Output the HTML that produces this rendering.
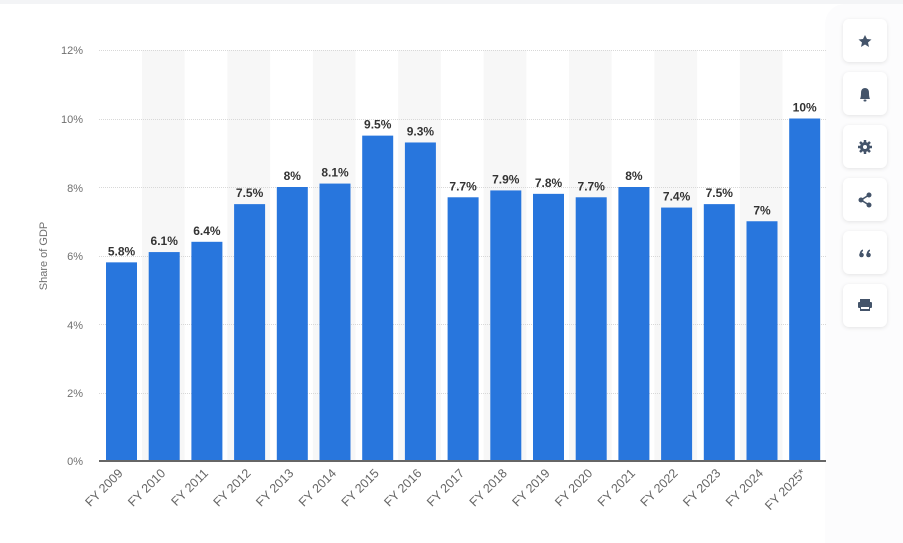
<!DOCTYPE html>
<html><head><meta charset="utf-8"><style>
html,body{margin:0;padding:0;background:#fff;}
body{width:903px;height:543px;overflow:hidden;position:relative;font-family:"Liberation Sans",sans-serif;}
.btn{position:absolute;left:843px;width:44px;height:43px;background:#fff;border-radius:6px;box-shadow:0 1px 4px rgba(0,0,0,0.10);}
</style></head><body>
<div style="position:absolute;left:0;top:0;width:903px;height:4px;background:#f3f4f6"></div>
<div style="position:absolute;left:825px;top:4px;width:78px;height:539px;background:#fcfcfd;border-radius:20px 0 0 0"></div>
<svg width="903" height="543" style="position:absolute;left:0;top:0" xmlns="http://www.w3.org/2000/svg" font-family="Liberation Sans, sans-serif">
<g fill="#f7f7f7">
<rect x="142" y="50" width="42.7" height="411"/><rect x="227.4" y="50" width="42.7" height="411"/><rect x="312.8" y="50" width="42.7" height="411"/><rect x="398.2" y="50" width="42.7" height="411"/><rect x="483.6" y="50" width="42.7" height="411"/><rect x="569" y="50" width="42.7" height="411"/><rect x="654.4" y="50" width="42.7" height="411"/><rect x="739.8" y="50" width="42.7" height="411"/>
</g>
<g stroke="#d8d8d8" stroke-width="1" stroke-dasharray="1,1">
<line x1="99" x2="826" y1="50.5" y2="50.5"/><line x1="99" x2="826" y1="119.5" y2="119.5"/><line x1="99" x2="826" y1="187.5" y2="187.5"/><line x1="99" x2="826" y1="256.5" y2="256.5"/><line x1="99" x2="826" y1="324.5" y2="324.5"/><line x1="99" x2="826" y1="393.5" y2="393.5"/>
</g>
<g font-size="11" fill="#707070" text-anchor="end">
<text x="83" y="54">12%</text><text x="83" y="123">10%</text><text x="83" y="192">8%</text><text x="83" y="260">6%</text><text x="83" y="329">4%</text><text x="83" y="397">2%</text><text x="83" y="465">0%</text>
</g>
<text transform="translate(47,256) rotate(-90)" font-size="11" fill="#707070" text-anchor="middle">Share of GDP</text>
<g id="bars"></g>
<line x1="99" x2="826" y1="461" y2="461" stroke="#666" stroke-width="2"/>
</svg>
<div class="btn" style="top:19px"></div><div class="btn" style="top:72px"></div><div class="btn" style="top:125px"></div><div class="btn" style="top:178px"></div><div class="btn" style="top:231px"></div><div class="btn" style="top:284px"></div>
<svg width="903" height="543" style="position:absolute;left:0;top:0" xmlns="http://www.w3.org/2000/svg">
<g fill="#44546a">
<polygon points="865,35 867,39 871.5,39.5 868,42.5 869,47 865,44.5 861,47 862,42.5 858.5,39.5 863,39"/>
<path d="M860,99 Q861,97 861,93 Q861,88 865,88 Q869,88 869,93 Q869,97 870,99 Z"/><rect x="863.5" y="99.5" width="3" height="2" rx="1"/>
<circle cx="865" cy="147" r="5"/>
<g stroke="#44546a" stroke-width="2.5"><line x1="865" y1="140" x2="865" y2="154"/><line x1="858" y1="147" x2="872" y2="147"/><line x1="860" y1="142" x2="870" y2="152"/><line x1="870" y1="142" x2="860" y2="152"/></g>
<circle cx="865" cy="147" r="2" fill="#fff"/>
<circle cx="869" cy="195" r="2.5"/><circle cx="861" cy="200" r="2.5"/><circle cx="869" cy="205" r="2.5"/>
<path d="M861,200 L869,195 M861,200 L869,205" stroke="#44546a" stroke-width="1.6"/>
<circle cx="861.5" cy="255" r="2.3"/><circle cx="868.5" cy="255" r="2.3"/>
<path d="M859.5,254.5 Q860,250 863,249.5 L863,251 Q861.5,252 861.5,254 Z"/><path d="M866.5,254.5 Q867,250 870,249.5 L870,251 Q868.5,252 868.5,254 Z"/>
<rect x="860" y="299" width="10" height="3"/><rect x="858" y="302" width="14" height="6" rx="1"/><rect x="860" y="306" width="10" height="5" fill="#44546a"/><rect x="861" y="307" width="8" height="2" fill="#fff"/>
</g>
</svg>
<script>
const vals=[5.8,6.1,6.4,7.5,8,8.1,9.5,9.3,7.7,7.9,7.8,7.7,8,7.4,7.5,7,10];
const labs=["5.8%","6.1%","6.4%","7.5%","8%","8.1%","9.5%","9.3%","7.7%","7.9%","7.8%","7.7%","8%","7.4%","7.5%","7%","10%"];
const yrs=["FY 2009","FY 2010","FY 2011","FY 2012","FY 2013","FY 2014","FY 2015","FY 2016","FY 2017","FY 2018","FY 2019","FY 2020","FY 2021","FY 2022","FY 2023","FY 2024","FY 2025*"];
let s="";
vals.forEach((v,i)=>{const cx=121.5+i*42.7;const top=461-v*34.25;
s+=`<rect x="${cx-15.5}" y="${top}" width="31" height="${461-top}" fill="#2876dd"/>`;
s+=`<text x="${cx}" y="${top-7}" font-size="12" font-weight="bold" fill="#333" text-anchor="middle">${labs[i]}</text>`;
s+=`<text transform="translate(${cx+2},${474}) rotate(-45)" font-size="12.5" fill="#666" text-anchor="end">${yrs[i]}</text>`;});
document.getElementById("bars").innerHTML=s;
</script>
</body></html>
